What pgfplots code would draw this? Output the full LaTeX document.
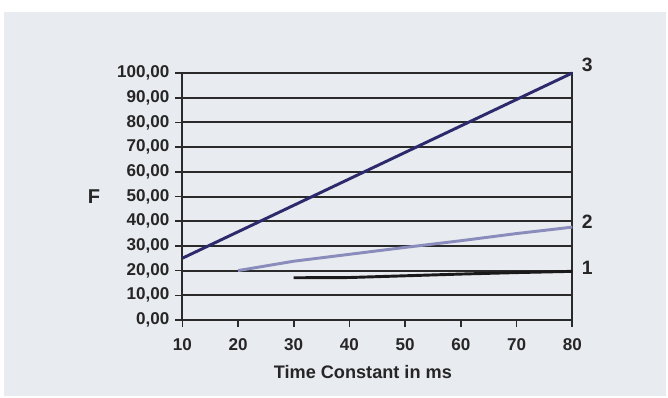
\documentclass[border=0pt]{standalone}
\usepackage{fontspec}
\setmainfont{Liberation Sans}
\usepackage{pgfplots}
\pgfplotsset{compat=1.18}
\definecolor{bg}{HTML}{E8EBEF}
\definecolor{gridc}{HTML}{2A2A2A}
\definecolor{sthree}{HTML}{2C2A6C}
\definecolor{stwo}{HTML}{8A8DBC}
\definecolor{sone}{HTML}{1A1A1A}
\begin{document}
\begin{tikzpicture}[x=0.75pt,y=-0.75pt]
\useasboundingbox (0,0) rectangle (668,397);
\fill[white] (0,0) rectangle (668,397);
\fill[bg] (4,12) rectangle (666,396);
\begin{axis}[
  at={(136.725pt,-240pt)}, anchor=south west,
  scale only axis, width=292.5pt, height=185.25pt,
  xmin=10, xmax=80, ymin=0, ymax=100,
  xtick={10,20,...,80}, ytick={0,10,...,100},
  axis line style={gridc, line width=1.5pt},
  ymajorgrids, major grid style={gridc, line width=1.5pt},
  tick align=outside, major tick length=5.25pt,
  tick style={gridc, line width=1.2pt},
  xtick pos=bottom, ytick pos=left,
  /pgf/number format/assume math mode=true,
  yticklabel style={/pgf/number format/.cd, fixed, fixed zerofill, precision=2, use comma, 1000 sep={}, /tikz/xshift=-1pt},
  ticklabel style={font=\fontsize{12.8}{14}\selectfont\bfseries, text=black!85},
  xticklabel style={/pgf/number format/.cd, 1000 sep={}, /tikz/yshift=-5.5pt},
  xlabel={Time Constant in ms},
  xlabel style={at={(axis description cs:0.463,0)}, anchor=base, yshift=-43.5pt, inner sep=0pt, font=\fontsize{13.6}{16}\selectfont\bfseries, text=black!85},
  ylabel={F},
  ylabel style={rotate=-90, at={(axis description cs:0,0.5)}, anchor=center, xshift=-66.2pt, inner sep=0pt, font=\fontsize{15}{17}\selectfont\bfseries, text=black!85},
  clip=false,
]
\addplot[sone, line width=2.2pt] coordinates {(30,17.1) (40,17.2) (50,17.9) (60,18.6) (70,19.2) (80,19.7)};
\addplot[stwo, line width=2.2pt] coordinates {(20,20) (30,23.8) (40,26.6) (50,29.4) (60,32.1) (70,35) (80,37.6)};
\addplot[sthree, line width=2.2pt] coordinates {(10,25) (80,100)};
\node[font=\fontsize{14.5}{16}\selectfont\bfseries, text=black!85, xshift=11.25pt, yshift=5.8pt] at (axis cs:80,100) {3};
\node[font=\fontsize{14.5}{16}\selectfont\bfseries, text=black!85, xshift=11.25pt, yshift=3.8pt] at (axis cs:80,37.6) {2};
\node[font=\fontsize{14.5}{16}\selectfont\bfseries, text=black!85, xshift=11.25pt, yshift=2.2pt] at (axis cs:80,20) {1};
\end{axis}
\end{tikzpicture}
\end{document}
